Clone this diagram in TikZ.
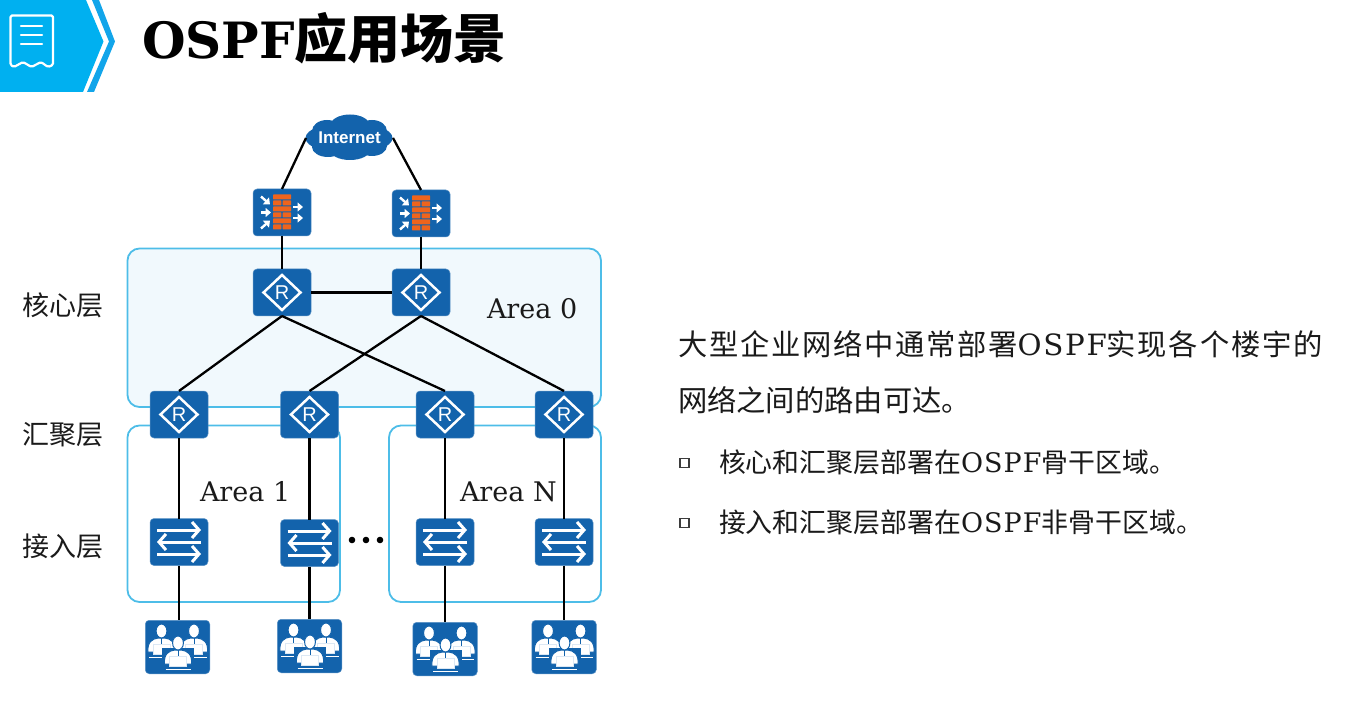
\documentclass[tikz,border=0pt]{standalone}
\usepackage{fontspec}
\setmainfont{DejaVu Serif}
\newfontfamily\cjk{Noto Sans CJK SC}
\newfontfamily\cjkls[LetterSpace=5.9]{Noto Sans CJK SC}
\newfontfamily\serifls[LetterSpace=5.9]{DejaVu Serif}
\newfontfamily\serifwide[LetterSpace=4]{DejaVu Serif}
\usetikzlibrary{arrows.meta}
\definecolor{devblue}{HTML}{1363AC}
\definecolor{arealine}{HTML}{4DBDE8}
\definecolor{areafill}{HTML}{F1F9FD}
\definecolor{headblue}{HTML}{00B0F0}
\definecolor{chevblue}{HTML}{12A5EA}
\definecolor{brick}{HTML}{EF641C}
\definecolor{ink}{HTML}{1A1A1A}
\definecolor{lappale}{HTML}{DCE8F4}
\newcommand{\zw}[1]{{\cjk #1}}
\newcommand{\zwls}[1]{{\cjkls #1}}
\tikzset{
  x=1pt,y=-1pt,
  devbox/.style={draw=devblue!70!white,line width=.5pt,fill=devblue,rounded corners=4pt,minimum width=58pt,minimum height=47pt,inner sep=0pt,outer sep=0pt},
  userbox/.style={devbox,minimum width=64.5pt,minimum height=53.5pt},
  areabox/.style={draw=arealine,line width=1.8pt,rounded corners=12pt},
  link/.style={draw=black,line width=2.3pt},
  label/.style={inner sep=0pt,outer sep=0pt,anchor=west,text=ink,font=\fontsize{27}{30}\selectfont},
  body/.style={inner sep=0pt,outer sep=0pt,anchor=west,text=ink},
  bullet/.style={draw=ink!85,line width=1.5pt,minimum size=9pt,inner sep=0pt,outer sep=0pt},
  whitearrow/.style={draw=white,line width=3pt,-{Straight Barb[length=7pt,width=16pt,line width=3pt]}},
  fwarrow/.style={draw=white,line width=2.4pt,-{Triangle[length=5.5pt,width=9pt]}},
  routerglyph/.pic={
    \draw[white,line width=2.5pt] (-18.5,0)--(0,-17.5)--(18.5,0)--(0,17.5)--cycle;
    \node[text=white,inner sep=0pt,font=\fontsize{20}{20}\selectfont\fontspec{Liberation Sans}] at (0,0) {R};
  },
  switchglyph/.pic={
    \draw[whitearrow] (-22,-12)--(22,-12);
    \draw[whitearrow] (22,0)--(-22,0);
    \draw[whitearrow] (-22,12)--(22,12);
  },
  firewallglyph/.pic={
    \foreach \yy in {-18,-6,6}{\fill[brick,rounded corners=.5pt] (-9,\yy) rectangle (9,\yy+4.8);}
    \foreach \yy in {-12,0,12}{
      \fill[brick,rounded corners=.5pt] (-9,\yy) rectangle (-.7,\yy+4.8);
      \fill[brick,rounded corners=.5pt] (.7,\yy) rectangle (9,\yy+4.8);}
    \draw[fwarrow] (-21,-16)--(-12,-8);
    \draw[fwarrow] (-21,0)--(-11,0);
    \draw[fwarrow] (-21,16)--(-12,8);
    \draw[fwarrow] (11,-5.5)--(21,-5.5);
    \draw[fwarrow] (11,5.5)--(21,5.5);
  },
  % origin = centre of the head
  personglyph/.pic={
    \fill[white,draw=devblue,line width=1pt] (-13.5,21) .. controls (-14.5,11) and (-9,7.5) .. (-3,7) -- (3,7) .. controls (9,7.5) and (14.5,11) .. (13.5,21) -- cycle;
    \fill[white,draw=devblue,line width=1pt] (0,0) ellipse (5.4 and 7);
    \draw[devblue,line width=1pt] (0,7)--(0,13);
    \fill[white,draw=lappale,line width=1pt] (-8.5,13) rectangle (8.5,23.5);
    \draw[white,line width=1.4pt] (-12.5,26.5)--(12.5,26.5);
  },
  usersglyph/.pic={
    \pic at (-16,-16) {personglyph};
    \pic at (16.5,-16) {personglyph};
    \fill[devblue] (-15.5,0.5) rectangle (16.5,24.5);
    \pic at (0.5,-4) {personglyph};
  },
}
\begin{document}
\begin{tikzpicture}
\useasboundingbox (0,0) rectangle (1355,703);
% header
\fill[headblue] (0,0)--(86,0)--(103.5,41.5)--(83,92)--(0,92)--cycle;
\fill[chevblue] (92,0)--(99,0)--(115,41.5)--(94,92)--(87,92)--(109,41.5)--cycle;
\draw[white,line width=2.2pt,line join=round,rounded corners=1.5pt] (10.5,15.5)--(53,15.5)--(53,65)--(48,67)--(41,62)--(31.5,67)--(23,62)--(14,67)--(10.5,65)--cycle;
\draw[white,line width=2.2pt,line cap=round] (21,26)--(42,26) (21,35)--(42,35) (21,44)--(42,44);
\node[body,text=black] (title) at (142,38) {\fontsize{50}{56}\selectfont\bfseries OSPF\fontsize{53}{56}\selectfont\zw{应用场景}};
% areas
\draw[areabox,fill=areafill] (127.5,248.5) rectangle (601,407);
\draw[areabox] (127.5,425.5) rectangle (340,602);
\draw[areabox] (389,425.5) rectangle (601,602);
\node[label] (area0) at (487,309) {Area 0};
\node[label] (area1) at (200,492) {Area 1};
\node[label] (arean) at (460,492) {Area N};
% cloud
\fill[devblue] (349,138) ellipse (43.5 and 16)
  (327,131) ellipse (15 and 11) (350,126) ellipse (20 and 11.5) (372,131) ellipse (15 and 11)
  (328,147) ellipse (16 and 10) (350,150) ellipse (20 and 10) (372,146) ellipse (15 and 10);
\node[inner sep=0pt,outer sep=0pt,minimum width=87pt,minimum height=45pt,text=white,font=\fontsize{17}{17}\selectfont\fontspec{Liberation Sans}\bfseries] (inet) at (349.5,138) {Internet};
% devices
\node[devbox] (fw1) at (282,212.5) {};
\node[devbox] (fw2) at (421,213.5) {};
\node[devbox] (r1) at (282,292.5) {};
\node[devbox] (r2) at (421,292.5) {};
\node[devbox] (a1) at (179,414.5) {};
\node[devbox] (a2) at (309.5,414.5) {};
\node[devbox] (a3) at (445,414.5) {};
\node[devbox] (a4) at (564,414.5) {};
\node[devbox] (s1) at (179,542) {};
\node[devbox] (s2) at (309.5,543) {};
\node[devbox] (s3) at (445,542) {};
\node[devbox] (s4) at (564,542) {};
\node[userbox] (u1) at (177.5,647) {};
\node[userbox] (u2) at (309.5,646) {};
\node[userbox] (u3) at (445,649) {};
\node[userbox] (u4) at (564,647) {};
\foreach \n in {fw1,fw2}{\pic at (\n) {firewallglyph};}
\foreach \n in {r1,r2,a1,a2,a3,a4}{\pic at (\n) {routerglyph};}
\foreach \n in {s1,s2,s3,s4}{\pic at (\n) {switchglyph};}
\foreach \n in {u1,u2,u3,u4}{\pic at (\n) {usersglyph};}
% links
\draw[link] (inet.west)--(fw1.north);
\draw[link] (inet.east)--(fw2.north);
\draw[link] (fw1)--(r1);
\draw[link] (fw2)--(r2);
\draw[link] (r1)--(r2);
\foreach \p/\q in {r1/a1,r1/a3,r2/a2,r2/a4}{\draw[link] (\p.south)--(\q.north);}
\foreach \p/\q in {a1/s1,a2/s2,a3/s3,a4/s4}{\draw[link] (\p.south)--(\q.north);}
\foreach \p/\q in {s1/u1,s2/u2,s3/u3,s4/u4}{\draw[link] (\p.south)--(\p.south |- \q.north);}
\foreach \n/\xx in {d1/352,d2/366,d3/380}{\fill[black] (\xx,540) circle (3.3);}
% layer labels
\node[label] (core) at (23,305) {\zw{核心层}};
\node[label] (dist) at (23,435) {\zw{汇聚层}};
\node[label] (acc) at (23,546) {\zw{接入层}};
% body
\node[body,font=\fontsize{29.3}{34}\selectfont] (t1) at (678,344) {\zwls{大型企业网络中通常部署}{\serifls OSPF}\zwls{实现各个楼宇的}};
\node[body,font=\fontsize{29.3}{34}\selectfont] (t2) at (678,400) {\zw{网络之间的路由可达。}};
\node[bullet] (b1) at (684.5,463) {};
\node[bullet] (b2) at (684.5,523) {};
\node[body,font=\fontsize{26.9}{30}\selectfont] (t3) at (719,462) {\zw{核心和汇聚层部署在}{\serifwide OSPF}\zw{骨干区域。}};
\node[body,font=\fontsize{26.9}{30}\selectfont] (t4) at (719,522) {\zw{接入和汇聚层部署在}{\serifwide OSPF}\zw{非骨干区域。}};
\end{tikzpicture}
\end{document}
